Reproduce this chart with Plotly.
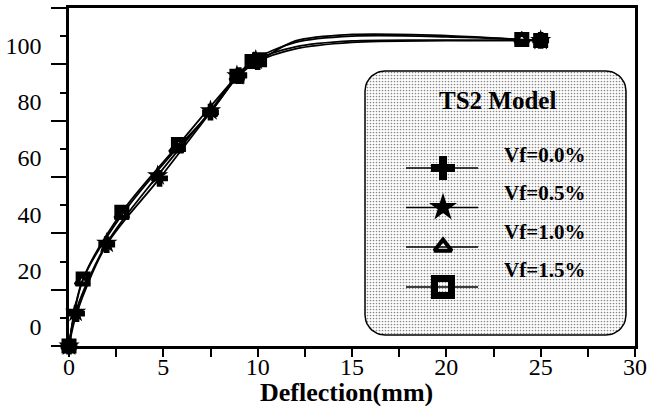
import numpy as np
import plotly.graph_objects as go

# ---------------- data ----------------
x_vf00 = [0, 0.40, 2.0, 4.8, 7.5, 9.0, 10.0, 12.0, 15.0, 20.0, 25.0]
y_vf00 = [-10, 1.5, 26.0, 49.5, 73.0, 86.0, 91.0, 95.5, 97.8, 98.4, 98.5]
m_vf00 = [1, 1, 1, 1, 1, 1, 1, 0, 0, 0, 1]

x_vf05 = [0, 0.35, 2.0, 4.7, 7.5, 8.9, 9.9, 12.0, 15.0, 20.0, 25.0]
y_vf05 = [-10, 2.0, 26.5, 50.5, 73.5, 86.0, 91.5, 96.2, 98.3, 98.6, 98.5]
m_vf05 = [1, 1, 1, 1, 1, 1, 1, 0, 0, 0, 1]

x_vf10 = [0, 0.70, 2.8, 5.7, 7.5, 8.9, 9.8, 12.0, 15.0, 20.0, 24.0]
y_vf10 = [-10, 13.0, 36.5, 60.0, 73.0, 85.5, 91.5, 97.8, 100.0, 99.8, 98.8]
m_vf10 = [1, 1, 1, 1, 1, 1, 1, 0, 0, 0, 1]

x_vf15 = [0, 0.75, 2.8, 5.8, 8.9, 9.7, 10.1, 12.0, 15.0, 20.0, 24.0, 25.0]
y_vf15 = [-10, 13.8, 37.5, 61.5, 85.8, 91.0, 91.6, 98.3, 100.6, 100.2, 98.8, 98.5]
m_vf15 = [1, 1, 1, 1, 1, 1, 1, 0, 0, 0, 1, 1]

series_names = ["Vf=0.0%", "Vf=0.5%", "Vf=1.0%", "Vf=1.5%"]
legend_title = "TS2 Model"
x_title = "Deflection(mm)"
y_tick_vals = [0, 20, 40, 60, 80, 100]
y_tick_text = ["0", "20", "40", "60", "80", "100"]
x_tick_vals = [0, 5, 10, 15, 20, 25, 30]

# ---------------- styles ----------------
FONT = "Liberation Serif"
Y_RANGE = [-10, 110]
LABEL_DROP = 3.2  # y tick labels sit just below their tick (label top at the tick)

styles = [
    dict(symbol="cross", size=14, line=dict(width=0)),
    dict(symbol="star", size=16, line=dict(width=0)),
    dict(symbol="triangle-up-open", size=12, line=dict(width=3.5, color="black")),
    dict(symbol="square-open", size=10, line=dict(width=5, color="black")),
]
legend_styles = [
    dict(symbol="cross", size=20, line=dict(width=0)),
    dict(symbol="star", size=21, line=dict(width=0)),
    dict(symbol="triangle-up-open", size=15, line=dict(width=4, color="black")),
    dict(symbol="square-open", size=17, line=dict(width=7, color="black")),
]

fig = go.Figure()

data = [(x_vf00, y_vf00, m_vf00), (x_vf05, y_vf05, m_vf05),
        (x_vf10, y_vf10, m_vf10), (x_vf15, y_vf15, m_vf15)]

for (xs, ys, ms), name in zip(data, series_names):
    fig.add_trace(go.Scatter(x=xs, y=ys, mode="lines", name=name,
                             line=dict(color="black", width=1.8, shape="spline", smoothing=0.9),
                             showlegend=False, hoverinfo="skip"))

for (xs, ys, ms), name, st in zip(data, series_names, styles):
    mx = [x for x, m in zip(xs, ms) if m]
    my = [y for y, m in zip(ys, ms) if m]
    fig.add_trace(go.Scatter(x=mx, y=my, mode="markers", name=name, cliponaxis=False,
                             marker=dict(color="black", **st), showlegend=False))

# ---------------- manual legend (overlay axes in pixel units) ----------------
def rounded_rect(x0, y0, x1, y1, r, n=12):
    pts = []
    corners = [(x1 - r, y0 + r, -90, 0), (x1 - r, y1 - r, 0, 90),
               (x0 + r, y1 - r, 90, 180), (x0 + r, y0 + r, 180, 270)]
    for cx, cy, a0, a1 in corners:
        for a in np.linspace(np.radians(a0), np.radians(a1), n):
            pts.append((cx + r * np.cos(a), cy + r * np.sin(a)))
    pts.append(pts[0])
    return [p[0] for p in pts], [p[1] for p in pts]

bx, by = rounded_rect(365, 71, 626, 335, 20)
fig.add_trace(go.Scatter(x=bx, y=by, xaxis="x2", yaxis="y2", mode="lines",
                         fill="toself", fillcolor="white",
                         fillpattern=dict(shape=".", bgcolor="white", fgcolor="#111111",
                                          size=3, solidity=0.25),
                         line=dict(color="black", width=1.5),
                         showlegend=False, hoverinfo="skip"))

row_y = [168, 207.5, 247, 287]
label_y = [155, 193, 232, 270]
for ry, st in zip(row_y, legend_styles):
    fig.add_trace(go.Scatter(x=[406, 478], y=[ry, ry], xaxis="x2", yaxis="y2", mode="lines",
                             line=dict(color="black", width=1.5),
                             showlegend=False, hoverinfo="skip"))
    fig.add_trace(go.Scatter(x=[443], y=[ry], xaxis="x2", yaxis="y2", mode="markers",
                             marker=dict(color="black", **st),
                             showlegend=False, hoverinfo="skip"))

annotations = [dict(x=497, y=100, xref="x2", yref="y2", text="<b>%s</b>" % legend_title,
                    showarrow=False, font=dict(family=FONT, size=25, color="black"),
                    xanchor="center", yanchor="middle")]
for ly, name in zip(label_y, series_names):
    annotations.append(dict(x=502, y=ly, xref="x2", yref="y2", text="<b>%s</b>" % name,
                            showarrow=False, font=dict(family=FONT, size=21, color="black"),
                            xanchor="left", yanchor="middle"))
# x-axis title
annotations.append(dict(x=0.49, y=-0.138, xref="paper", yref="paper",
                        text="<b>%s</b>" % x_title, showarrow=False,
                        font=dict(family=FONT, size=26, color="black"),
                        xanchor="center", yanchor="middle"))

fig.update_layout(
    width=648, height=406,
    margin=dict(l=69, r=13, t=8, b=60),
    paper_bgcolor="white", plot_bgcolor="white",
    font=dict(family=FONT, color="black"),
    showlegend=False,
    annotations=annotations,
    xaxis=dict(range=[0, 30], tickvals=x_tick_vals, ticks="outside", ticklen=8, tickwidth=2,
               tickcolor="black", showline=True, linewidth=2.5, linecolor="black", mirror=True,
               showgrid=False, zeroline=False, tickfont=dict(family=FONT, size=24),
               automargin=False, ticklabelstandoff=-11,
               minor=dict(dtick=2.5, tick0=0, ticks="outside", ticklen=8, tickwidth=2,
                          tickcolor="black", showgrid=False)),
    # main y axis: labels (dropped just below their ticks) + long ticks at the odd tens
    yaxis=dict(range=Y_RANGE, tickvals=[v - LABEL_DROP for v in y_tick_vals],
               ticktext=y_tick_text, ticks="",
               showline=True, linewidth=2.5, linecolor="black", mirror=True,
               showgrid=False, zeroline=False,
               tickfont=dict(family=FONT, size=24), ticklabelstandoff=20,
               automargin=False,
               minor=dict(dtick=20, tick0=-10, ticks="outside", ticklen=15, tickwidth=2,
                          tickcolor="black", showgrid=False)),
    # overlay y axis: short ticks at the labelled values
    yaxis3=dict(overlaying="y", side="left", range=Y_RANGE, tickvals=y_tick_vals,
                ticks="outside", ticklen=8, tickwidth=2, tickcolor="black",
                showticklabels=False, showline=False, showgrid=False, zeroline=False,
                automargin=False, fixedrange=True),
    xaxis2=dict(overlaying="x", range=[69, 635], visible=False, fixedrange=True),
    yaxis2=dict(overlaying="y", range=[346, 8], visible=False, fixedrange=True),
)
# the short-tick overlay axis needs at least one (invisible) trace
fig.add_trace(go.Scatter(x=[0], y=[Y_RANGE[0]], yaxis="y3", mode="markers",
                         marker=dict(size=0, opacity=0), showlegend=False, hoverinfo="skip"))

fig.write_html("out.html", config={"displayModeBar": False},
               post_script="document.body.style.margin='0';")
